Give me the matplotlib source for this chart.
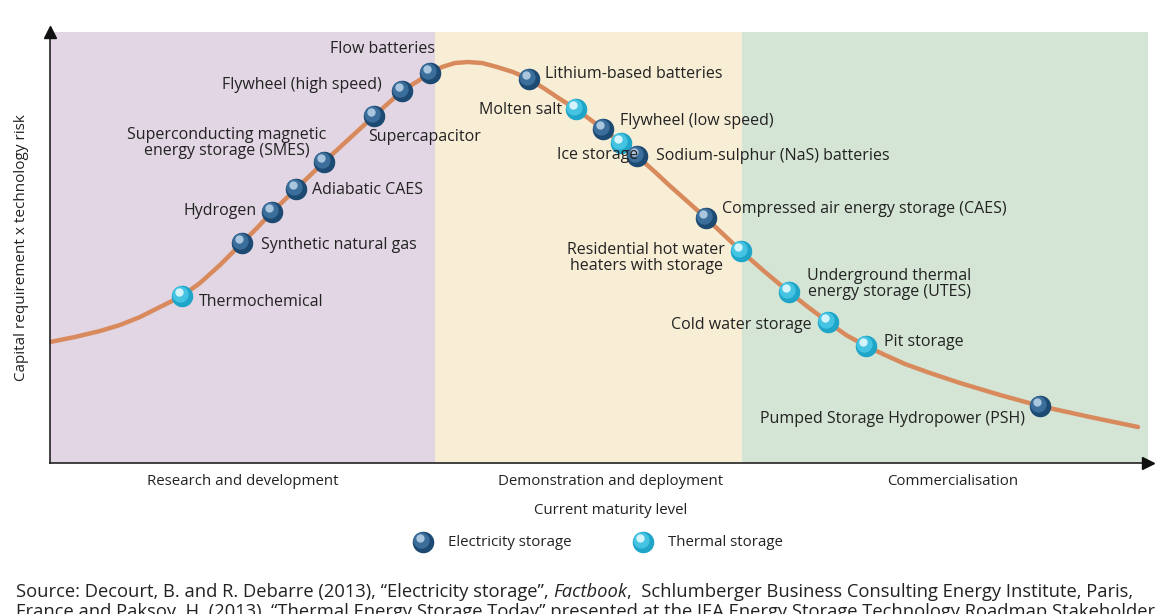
import matplotlib
matplotlib.use("Agg")
import matplotlib.pyplot as plt
from matplotlib import transforms

plt.rcParams['font.family'] = ['Open Sans', 'DejaVu Sans']

# technology maturity curve (x: maturity, y: capital requirement x risk)
curve_x = [0, 25, 50, 70, 90, 110, 132, 150, 170, 192, 207, 222, 246, 274, 300,
           324, 352, 368, 380, 392, 405, 418, 432, 447, 463, 479, 495, 510, 526,
           553, 571, 587, 605, 620, 638, 656, 674, 691, 715, 739, 758, 778, 796,
           816, 835, 855, 880, 910, 950, 990, 1040, 1088]
curve_y = [121, 126, 132, 138, 146, 156, 167, 180, 198, 220, 235, 251, 274, 301, 325,
           347, 372, 382, 390, 396, 400, 401, 400, 396, 391, 384, 374, 364, 354,
           334, 320, 307, 291, 277, 261, 245, 228, 212, 191, 171, 156, 141, 128,
           117, 108, 99, 90, 80, 68, 57, 46, 36]

tech_names = ["Thermochemical", "Synthetic natural gas", "Hydrogen", "Adiabatic CAES",
              "Superconducting magnetic\nenergy storage (SMES)", "Supercapacitor",
              "Flywheel (high speed)", "Flow batteries", "Lithium-based batteries",
              "Molten salt", "Flywheel (low speed)", "Ice storage",
              "Sodium-sulphur (NaS) batteries", "Compressed air energy storage (CAES)",
              "Residential hot water\nheaters with storage",
              "Underground thermal\nenergy storage (UTES)", "Cold water storage",
              "Pit storage", "Pumped Storage Hydropower (PSH)"]
tech_x = [132, 192, 222, 246, 274, 324, 352, 380, 479, 526, 553, 571, 587, 656,
          691, 739, 778, 816, 990]
tech_y = [167, 220, 251, 274, 301, 347, 372, 390, 384, 354, 334, 320, 307, 245,
          212, 171, 141, 117, 57]
tech_kind = ["thermal", "elec", "elec", "elec", "elec", "elec", "elec", "elec", "elec",
             "thermal", "elec", "thermal", "elec", "elec", "thermal", "thermal",
             "thermal", "thermal", "elec"]

stages = ["Research and development", "Demonstration and deployment", "Commercialisation"]
stage_edges = [0, 385, 692, 1098]
stage_colors = ["#e2d6e4", "#f8eed6", "#d5e5d5"]
stage_label_x = [193, 561, 903]

# label placement: (dx px, dy px, ha)
label_layout = [(17, -6, "left"), (19, -2, "left"), (-15, 1, "right"), (16, -1, "left"),
                (2, 19, "right"), (-6, -21, "left"), (-20, 6, "right"), (5, 24, "right"),
                (16, 5, "left"), (-14, -1, "right"), (17, 8, "left"), (17, -12, "right"),
                (19, 0, "left"), (16, 9, "left"), (-16, -7, "right"), (18, 8, "left"),
                (-16, -3, "right"), (18, 4, "left"), (-15, -13, "right")]

fig = plt.figure(figsize=(11.68, 6.14), dpi=100)
W, H = 1168, 614
ax = fig.add_axes([50 / W, (614 - 463) / H, 1098 / W, 431 / H])
ax.set_xlim(0, 1098)
ax.set_ylim(0, 431)
ax.axis("off")

for i in range(3):
    ax.axvspan(stage_edges[i], stage_edges[i + 1], color=stage_colors[i], zorder=0, lw=0)
    ax.text(stage_label_x[i], -0.044, stages[i],
            transform=transforms.blended_transform_factory(ax.transData, ax.transAxes),
            ha="center", va="center", fontsize=10.8, color="#222222")

# axes with arrows
ax.plot([0, 0], [0, 1], transform=ax.transAxes, color="#222222", lw=1.2, clip_on=False, zorder=3)
ax.plot([0, 1], [0, 0], transform=ax.transAxes, color="#222222", lw=1.2, clip_on=False, zorder=3)
ax.plot([0], [1.0], marker="^", ms=9, color="#111111", transform=ax.transAxes, clip_on=False, zorder=4)
ax.plot([1.0], [0], marker=">", ms=9, color="#111111", transform=ax.transAxes, clip_on=False, zorder=4)

ax.plot(curve_x, curve_y, color="#d88a5c", lw=3.2, solid_capstyle="round",
        solid_joinstyle="round", zorder=2)

styles = {
    "elec": ("#1d4a72", "#3b6e9b", "#a9c6de"),
    "thermal": ("#1ea5c8", "#45c3e2", "#d4f4fb"),
}
hl = transforms.offset_copy(ax.transData, fig=fig, x=-2, y=2.5, units="dots")
hl2 = transforms.offset_copy(ax.transData, fig=fig, x=-3, y=4, units="dots")

for kind in ["elec", "thermal"]:
    xs = [x for x, k in zip(tech_x, tech_kind) if k == kind]
    ys = [y for y, k in zip(tech_y, tech_kind) if k == kind]
    dark, mid, light = styles[kind]
    ax.scatter(xs, ys, s=210, color=dark, zorder=5)
    ax.scatter(xs, ys, s=115, color=mid, zorder=6, transform=hl)
    ax.scatter(xs, ys, s=25, color=light, zorder=7, transform=hl2)

for name, x, y, (dx, dy, ha) in zip(tech_names, tech_x, tech_y, label_layout):
    ax.annotate(name, (x, y), xytext=(dx, dy), textcoords="offset pixels",
                ha=ha, va="center", multialignment="center", fontsize=11.5,
                color="#222222", linespacing=1.0, zorder=8)

fig.text(22 / W, 1 - 248 / H, "Capital requirement x technology risk", rotation=90,
         ha="center", va="center", fontsize=11, color="#222222")
fig.text(611 / W, 1 - 511 / H, "Current maturity level", ha="center", va="center",
         fontsize=10.8, color="#222222")

# legend
lax = fig.add_axes([0, 0, 1, 1])
lax.set_xlim(0, W)
lax.set_ylim(H, 0)
lax.axis("off")
legend_names = ["Electricity storage", "Thermal storage"]
legend_kinds = ["elec", "thermal"]
legend_x = [423, 643]
lhl = transforms.offset_copy(lax.transData, fig=fig, x=-2, y=2.5, units="dots")
lhl2 = transforms.offset_copy(lax.transData, fig=fig, x=-3, y=4, units="dots")
for name, kind, x in zip(legend_names, legend_kinds, legend_x):
    dark, mid, light = styles[kind]
    lax.scatter([x], [542], s=210, color=dark, zorder=5)
    lax.scatter([x], [542], s=115, color=mid, zorder=6, transform=lhl)
    lax.scatter([x], [542], s=25, color=light, zorder=7, transform=lhl2)
    lax.text(x + 25, 542, name, ha="left", va="center", fontsize=10.8, color="#222222")

# source note
src_font = dict(fontsize=13.2, color="#222222")
parts = [("Source: Decourt, B. and R. Debarre (2013), \u201cElectricity storage\u201d, ", "normal"),
         ("Factbook", "italic"),
         (",  Schlumberger Business Consulting Energy Institute, Paris,", "normal")]
fig.canvas.draw()
renderer = fig.canvas.get_renderer()
xpos = 16
for txt, st in parts:
    t = fig.text(xpos / W, 1 - 592 / H, txt, ha="left", va="center", style=st, **src_font)
    xpos += t.get_window_extent(renderer).width
fig.text(16 / W, 1 - 603 / H,
         "France and Paksoy, H. (2013), \u201cThermal Energy Storage Today\u201d presented at the IEA Energy Storage Technology Roadmap Stakeholder",
         ha="left", va="top", **src_font)

fig.savefig("out.png", dpi=100)
